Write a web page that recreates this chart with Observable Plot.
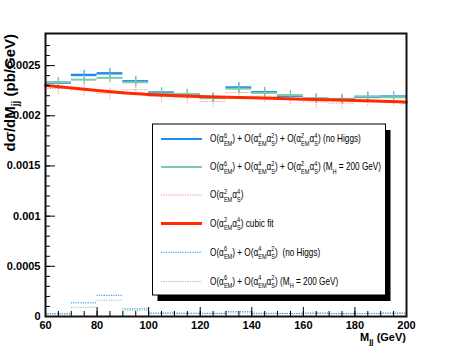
<!DOCTYPE html>
<html><head><meta charset="utf-8">
<script src="https://cdn.jsdelivr.net/npm/d3@7"></script>
<script src="https://cdn.jsdelivr.net/npm/@observablehq/plot@0.6"></script>
<style>body{margin:0;background:#fff}</style>
</head><body><div id="chart"></div>
<script>
const binEdges = [60,70,80,90,100,110,120,130,140,150,160,170,180,190,200];
const blueNoHiggs = [0.002330,0.002407,0.002423,0.002344,0.002232,0.002215,0.002180,0.002282,0.002235,0.002199,0.002170,0.002166,0.002188,0.002192];
const blueErr     = [0.000048,0.000047,0.000048,0.000047,0.000046,0.000046,0.000047,0.000050,0.000046,0.000046,0.000046,0.000046,0.000046,0.000046];
const tealMH200   = [0.002334,0.002360,0.002378,0.002334,0.002222,0.002218,0.002175,0.002270,0.002229,0.002206,0.002173,0.002165,0.002192,0.002185];
const tealErr     = [0.000047,0.000046,0.000048,0.000047,0.000046,0.000046,0.000046,0.000052,0.000046,0.000046,0.000046,0.000046,0.000046,0.000046];
const redQCD      = [0.002272,0.002259,0.002225,0.002259,0.002192,0.002179,0.002143,0.002232,0.002195,0.002172,0.002138,0.002126,0.002156,0.002150];
const redErr      = [0.000058,0.000058,0.000060,0.000058,0.000058,0.000058,0.000058,0.000058,0.000058,0.000058,0.000058,0.000058,0.000058,0.000058];
const fitX = [60,80,100,120,140,160,180,200];
const fitY = [0.002302,0.002252,0.002212,0.002192,0.002180,0.002166,0.002153,0.002136];
const blueLow = [0.000027,0.000136,0.000211,0.000076,0.000035,0.000033,0.000030,0.000048,0.000032,0.000030,0.000034,0.000030,0.000030,0.000035];
const tealLow = [0.000027,0.000092,0.000162,0.000062,0.000030,0.000030,0.000032,0.000035,0.000028,0.000030,0.000032,0.000028,0.000030,0.000030];
const xTicks = [60,80,100,120,140,160,180,200];
const xMinor = d3.range(60,201,5);
const yTicks = [0,0.0005,0.001,0.0015,0.002,0.0025];
const yMinor = d3.range(0,28).map(i => i*0.0001);
const legendLabels = [
  "O(α^{6}_{EM}) + O(α^{4}_{EM}α^{2}_{S}) + O(α^{2}_{EM}α^{4}_{S}) (no Higgs)",
  "O(α^{6}_{EM}) + O(α^{4}_{EM}α^{2}_{S}) + O(α^{2}_{EM}α^{4}_{S}) (M_{H} = 200 GeV)",
  "O(α^{2}_{EM}α^{4}_{S})",
  "O(α^{2}_{EM}α^{4}_{S}) cubic fit",
  "O(α^{6}_{EM}) + O(α^{4}_{EM}α^{2}_{S})  (no Higgs)",
  "O(α^{6}_{EM}) + O(α^{4}_{EM}α^{2}_{S}) (M_{H} = 200 GeV)"
];
const xLabel = ["M", "jj", " (GeV)"];
const yLabel = ["dσ/dM", "jj", " (pb/GeV)"];

const BLUE = "#1b8ceb", TEAL = "#80c9aa", RED = "#ff2a00", SALMON = "#f29280";
const legendStyles = [
  {stroke: BLUE, w: 2.2, dash: null},
  {stroke: TEAL, w: 2, dash: null},
  {stroke: SALMON, w: 1, dash: "1.2,1.2"},
  {stroke: RED, w: 3, dash: null},
  {stroke: BLUE, w: 1, dash: "1.2,1.2"},
  {stroke: TEAL, w: 1, dash: "1.2,1.2"}
];

const bins = (vals, errs) => vals.map((v, i) => ({
  x1: binEdges[i], x2: binEdges[i+1], xc: (binEdges[i] + binEdges[i+1]) / 2,
  y: v, lo: errs ? v - errs[i] : v, hi: errs ? v + errs[i] : v
}));
const blueB = bins(blueNoHiggs, blueErr), tealB = bins(tealMH200, tealErr), redB = bins(redQCD, redErr);
const blueLowB = bins(blueLow), tealLowB = bins(tealLow);
const fit = fitX.map((x, i) => ({x, y: fitY[i]}));

const W = 452, H = 354, mL = 45, mR = 46, mT = 33, mB = 38;
const fw = W - mL - mR, fh = H - mT - mB;
const FONT = "'Liberation Sans', Arial, sans-serif";

const chart = Plot.plot({
  width: W, height: H,
  marginLeft: mL, marginRight: mR, marginTop: mT, marginBottom: mB,
  style: {fontFamily: FONT, fontSize: "11px", fontWeight: "bold", background: "#fff", color: "#000"},
  x: {domain: [60, 200]},
  y: {domain: [0, 0.00282]},
  marks: [
    Plot.ruleY(tealLowB, {x1: "x1", x2: "x2", y: "y", stroke: TEAL, strokeWidth: 1, strokeDasharray: "1.2,1.2"}),
    Plot.ruleY(blueLowB, {x1: "x1", x2: "x2", y: "y", stroke: BLUE, strokeWidth: 1, strokeDasharray: "1.2,1.2"}),
    Plot.ruleY(redB, {x1: "x1", x2: "x2", y: "y", stroke: SALMON, strokeWidth: 1, strokeDasharray: "1.2,1.2"}),
    Plot.ruleX(redB, {x: "xc", y1: "lo", y2: "hi", stroke: SALMON, strokeWidth: 1, strokeDasharray: "1.2,1.2"}),
    Plot.ruleY(blueB, {x1: "x1", x2: "x2", y: "y", stroke: BLUE, strokeWidth: 2.4}),
    Plot.ruleX(blueB, {x: "xc", y1: "lo", y2: "hi", stroke: BLUE, strokeWidth: 1}),
    Plot.ruleY(tealB, {x1: "x1", x2: "x2", y: "y", stroke: TEAL, strokeWidth: 2}),
    Plot.ruleX(tealB, {x: "xc", y1: "lo", y2: "hi", stroke: TEAL, strokeWidth: 1.3}),
    Plot.line(fit, {x: "x", y: "y", stroke: RED, strokeWidth: 3, curve: "natural"}),
    Plot.tickY(yMinor, {y: d => d, stroke: "#000", strokeWidth: 1, insetRight: fw - 5}),
    Plot.tickY(yTicks, {y: d => d, stroke: "#000", strokeWidth: 1, insetRight: fw - 10}),
    Plot.tickX(xMinor, {x: d => d, stroke: "#000", strokeWidth: 1, insetTop: fh - 5}),
    Plot.tickX(xTicks, {x: d => d, stroke: "#000", strokeWidth: 1, insetTop: fh - 9}),
    Plot.frame({stroke: "#111", strokeWidth: 2}),
    Plot.axisY({ticks: yTicks, tickSize: 0, tickPadding: 5, tickFormat: d => String(d), label: null}),
    Plot.axisX({ticks: xTicks, tickSize: 0, tickPadding: 5, tickFormat: d => String(d), label: null})
  ]
});
document.getElementById("chart").appendChild(chart);

const svg = d3.select(chart);
const NB = s => s.replace(/ /g, "\u00a0");

// axis titles
const xt = svg.append("text").attr("x", W - mR).attr("y", 341).attr("text-anchor", "end")
  .attr("font-family", FONT).attr("font-weight", "bold").attr("font-size", 11).attr("fill", "#000");
xt.append("tspan").text(xLabel[0]);
xt.append("tspan").attr("dy", 3).attr("font-size", 8).text(xLabel[1]);
xt.append("tspan").attr("dy", -3).text(NB(xLabel[2]));

const yt = svg.append("text").attr("transform", "rotate(-90)").attr("x", -(mT + 1)).attr("y", 15)
  .attr("text-anchor", "end")
  .attr("font-family", FONT).attr("font-weight", "bold").attr("font-size", 15).attr("fill", "#000");
yt.append("tspan").text(yLabel[0]);
yt.append("tspan").attr("dy", 4).attr("font-size", 10).text(yLabel[1]);
yt.append("tspan").attr("dy", -4).text(NB(yLabel[2]));

// legend: one <text> per row, built from tspans
function parse(str) {
  const out = []; let i = 0, buf = "";
  const grab = () => { const j = str.indexOf("}", i); const s = str.slice(i + 2, j); i = j + 1; return s; };
  while (i < str.length) {
    if (str[i] === "^" && str[i+1] === "{") {
      if (buf) { out.push({k: "n", t: buf}); buf = ""; }
      const sup = grab(); let sub = null;
      if (str[i] === "_" && str[i+1] === "{") sub = grab();
      out.push({k: "s", sup, sub});
    } else if (str[i] === "_" && str[i+1] === "{") {
      if (buf) { out.push({k: "n", t: buf}); buf = ""; }
      out.push({k: "s", sup: null, sub: grab()});
    } else { buf += str[i]; i++; }
  }
  if (buf) out.push({k: "n", t: buf});
  return out;
}
const lg = svg.append("g").attr("font-family", FONT).attr("font-weight", "normal").attr("fill", "#000").attr("text-anchor", "start");
const probe = lg.append("text").attr("x", 0).attr("y", -50);
const widthOf = (t, s) => { probe.attr("font-size", s).text(NB(t)); return probe.node().getComputedTextLength(); };
function richRow(g, str, size) {
  const small = size * 0.68, up = size * 0.45, down = size * 0.32;
  const t = g.append("text").attr("x", 0).attr("y", 0).attr("font-size", size).attr("text-anchor", "start");
  let pendDx = 0, level = 0, total = 0;
  for (const p of parse(str)) {
    if (p.k === "n") {
      t.append("tspan").attr("dx", pendDx).attr("dy", -level).text(NB(p.t));
      total += pendDx + widthOf(p.t, size); pendDx = 0; level = 0;
    } else {
      const ws = p.sup ? widthOf(p.sup, small) : 0, wb = p.sub ? widthOf(p.sub, small) : 0;
      let cur = level;
      if (p.sup) { t.append("tspan").attr("font-size", small).attr("dx", pendDx).attr("dy", -up - cur).text(p.sup); cur = -up; pendDx = 0; total += ws; }
      if (p.sub) { t.append("tspan").attr("font-size", small).attr("dx", pendDx - ws).attr("dy", down - cur).text(p.sub); cur = down; pendDx = 0; total += wb - ws; }
      const w = Math.max(ws, wb);
      pendDx = p.sub ? w - wb : w - ws;
      total += pendDx;
      level = cur;
    }
  }
  return {node: t, width: total};
}
const bx = 152.5, by = 124, bw = 233, bh = 171;
lg.append("rect").attr("x", bx + 5).attr("y", by + 6).attr("width", bw).attr("height", bh).attr("fill", "#000");
lg.append("rect").attr("x", bx).attr("y", by).attr("width", bw).attr("height", bh).attr("fill", "#fff").attr("stroke", "#000").attr("stroke-width", 1);
const rowY = [139, 167, 195, 223.5, 252.3, 281.5];
// the reference uses a condensed face: render at 10px and squeeze horizontally so row 1 spans 151px
const FS = 10;
const cal = richRow(lg, legendLabels[0], FS);
cal.node.remove();
const sx = 151 / cal.width;
legendLabels.forEach((lab, i) => {
  const s = legendStyles[i];
  lg.append("line").attr("x1", 161).attr("x2", 202).attr("y1", rowY[i]).attr("y2", rowY[i])
    .attr("stroke", s.stroke).attr("stroke-width", s.w).attr("stroke-dasharray", s.dash);
  const row = lg.append("g").attr("transform", `translate(210,${rowY[i] + FS * 0.33}) scale(${sx},1)`);
  richRow(row, lab, FS);
});
probe.remove();
</script></body></html>
